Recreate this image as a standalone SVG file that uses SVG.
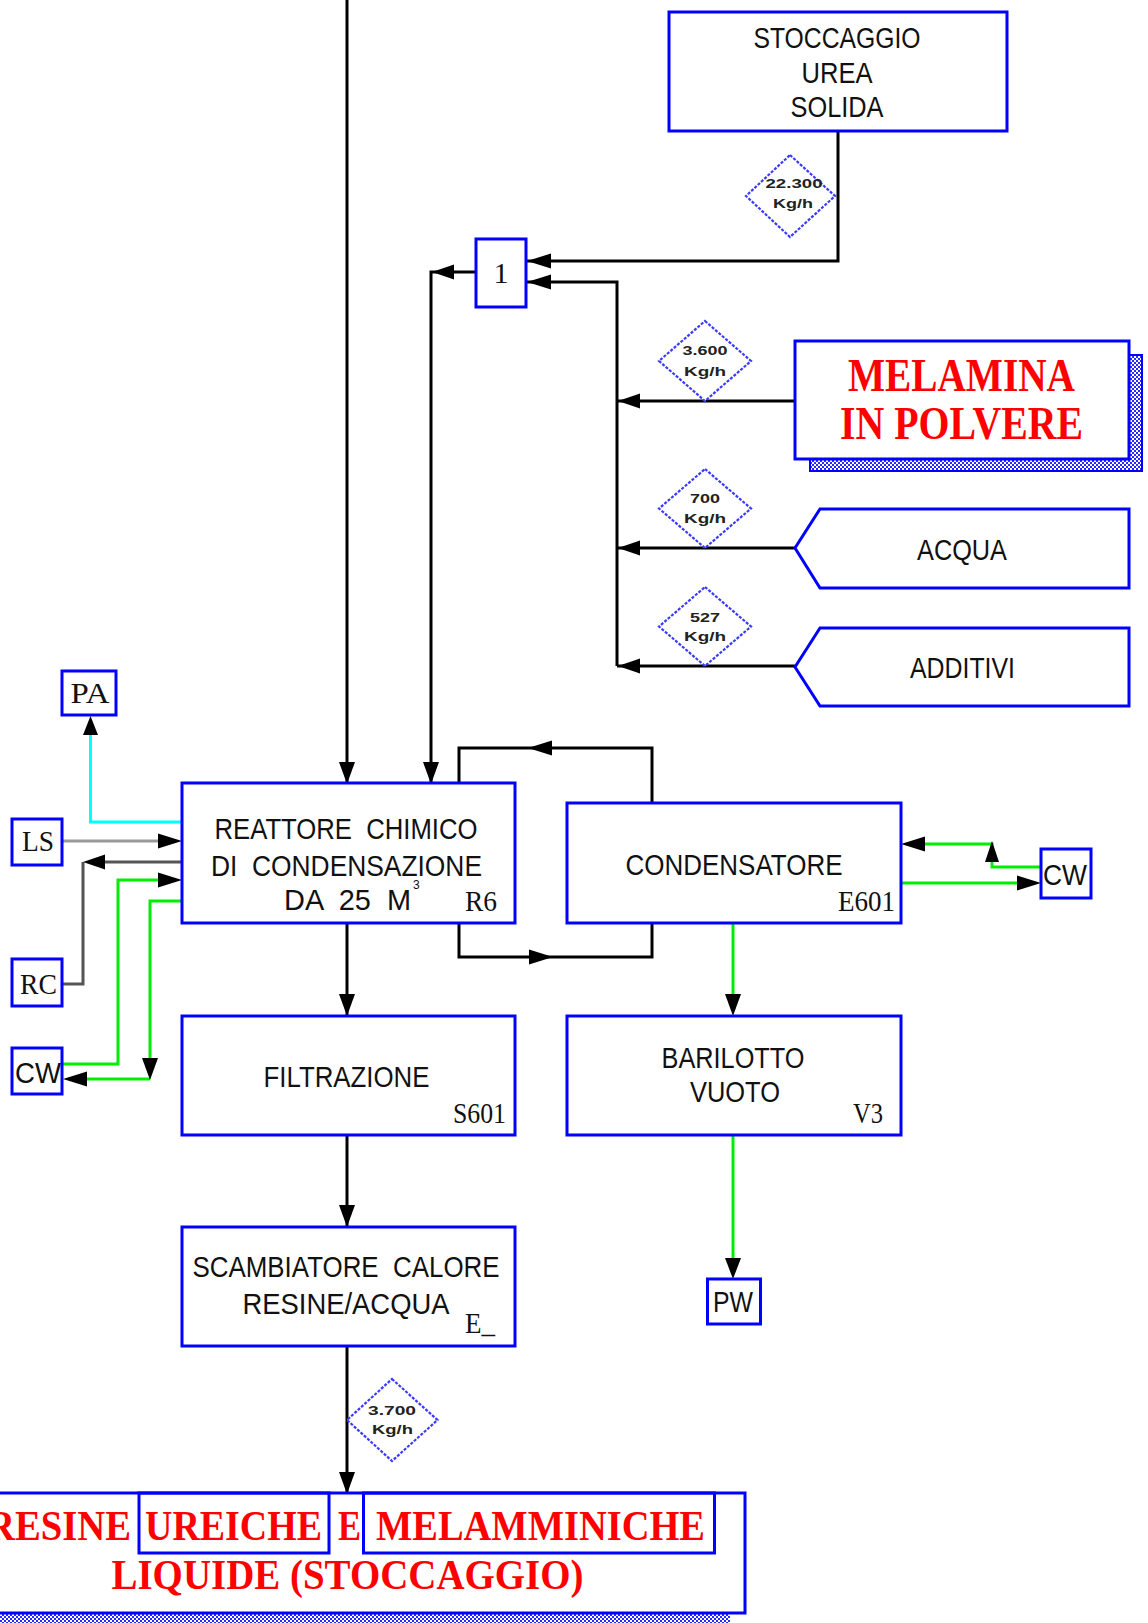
<svg xmlns="http://www.w3.org/2000/svg" width="1148" height="1623" viewBox="0 0 1148 1623">
<defs>
<pattern id="hatch" width="4" height="4" patternUnits="userSpaceOnUse">
<rect width="4" height="4" fill="#ffffff"/>
<rect width="2" height="2" fill="#2a2aff"/>
<rect x="2" y="2" width="2" height="2" fill="#2a2aff"/>
</pattern>
</defs>
<style>
.box{fill:#fff;stroke:#0000ff;stroke-width:3}
.ln{fill:none;stroke:#000;stroke-width:3}
.gr{stroke:#00ee00}
.cy{stroke:#00ffff}
.ah{fill:#000}
.dm{fill:#fff;stroke:#3a3aff;stroke-width:2.2;stroke-dasharray:3 1.5}
.t{font-family:"Liberation Sans",Arial,sans-serif;font-size:30px;fill:#111;white-space:pre}
.s{font-family:"Liberation Serif","Times New Roman",serif;font-size:30px;fill:#111}
.k{font-family:"Liberation Sans",Arial,sans-serif;font-size:13px;font-weight:bold;fill:#222}
.r{font-family:"Liberation Serif","Times New Roman",serif;font-weight:bold;fill:#ff0000}
</style>
<rect width="1148" height="1623" fill="#fff"/>

<g id="connectors">
<path class="ln" d="M347,0 V783"/>
<path class="ln" d="M476,272 H431 V783"/>
<path class="ln" d="M838,131 V261 H527"/>
<path class="ln" d="M617,666 V282 H527"/>
<path class="ln" d="M795,401 H617"/>
<path class="ln" d="M795,548 H617"/>
<path class="ln" d="M795,666 H617"/>
<path class="ln cy" d="M182,822 H90.5 V725"/>
<path class="ln" style="stroke:#999" d="M62,841 H170"/>
<path class="ln" style="stroke:#555" d="M182,862 H90 M83,862 V984 H62"/>
<path class="ln gr" d="M62,1064 H118 V880 H170"/>
<path class="ln gr" d="M182,901 H150 V1070 M150,1079 H75"/>
<path class="ln" d="M459,783 V748 H652 V803"/>
<path class="ln" d="M459,923 V957 H652 V923"/>
<path class="ln gr" d="M1041,867 H992 V844 H915"/>
<path class="ln gr" d="M901,883 H1030"/>
<path class="ln gr" d="M733,923 V1005"/>
<path class="ln gr" d="M733,1134 V1268"/>
<path class="ln" d="M347,923 V1015"/>
<path class="ln" d="M347,1134 V1226"/>
<path class="ln" d="M347,1346 V1493"/>
<g class="ah">
<polygon points="347,784 339,762 355,762"/>
<polygon points="431,784 423,762 439,762"/>
<polygon points="432,272 454,264.5 454,279.5"/>
<polygon points="527,261 551,253.5 551,268.5"/>
<polygon points="527,282 551,274.5 551,289.5"/>
<polygon points="618,401 640,393.5 640,408.5"/>
<polygon points="618,548 640,540.5 640,555.5"/>
<polygon points="618,666 640,658.5 640,673.5"/>
<polygon points="90.5,716 83,735 98,735"/>
<polygon points="182,841 158,833.5 158,848.5"/>
<polygon points="83,862 105,854.5 105,869.5"/>
<polygon points="182,880 158,872.5 158,887.5"/>
<polygon points="150,1080 142,1058 158,1058"/>
<polygon points="63,1079 87,1071.5 87,1086.5"/>
<polygon points="528,748 552,740.5 552,755.5"/>
<polygon points="553,957 529,949.5 529,964.5"/>
<polygon points="901,844 925,836.5 925,851.5"/>
<polygon points="992,841 985,862 999,862"/>
<polygon points="1041,883 1017,875.5 1017,890.5"/>
<polygon points="733,1016 725,994 741,994"/>
<polygon points="733,1279 725,1258 741,1258"/>
<polygon points="347,1016 339,994 355,994"/>
<polygon points="347,1227 339,1205 355,1205"/>
<polygon points="347,1494 339,1472 355,1472"/>
</g>
</g>

<g id="stoccaggio-urea">
<rect class="box" x="669" y="12" width="338" height="119"/>
<text class="t" x="753.5" y="48" textLength="167" lengthAdjust="spacingAndGlyphs">STOCCAGGIO</text>
<text class="t" x="801.5" y="83" textLength="71" lengthAdjust="spacingAndGlyphs">UREA</text>
<text class="t" x="790.5" y="117" textLength="93" lengthAdjust="spacingAndGlyphs">SOLIDA</text>
</g>

<g id="flow-22300">
<polygon class="dm" points="790,155 835,196 790,237 746,196"/>
<text class="k" x="765.5" y="188" textLength="57" lengthAdjust="spacingAndGlyphs">22.300</text>
<text class="k" x="773" y="208" textLength="40" lengthAdjust="spacingAndGlyphs">Kg/h</text>
</g>

<g id="mixer-1">
<rect class="box" x="476" y="239" width="50" height="68"/>
<text class="s" x="501" y="283" text-anchor="middle">1</text>
</g>

<g id="flow-3600">
<polygon class="dm" points="705,321 751,361 705,401 659,361"/>
<text class="k" x="682.5" y="355" textLength="45" lengthAdjust="spacingAndGlyphs">3.600</text>
<text class="k" x="684" y="376" textLength="42" lengthAdjust="spacingAndGlyphs">Kg/h</text>
</g>

<g id="melamina">
<rect x="810" y="355" width="332" height="116" fill="url(#hatch)" stroke="#0000ff" stroke-width="2"/>
<rect class="box" x="795" y="341" width="334" height="118"/>
<text class="r" x="848" y="391" font-size="46" textLength="227" lengthAdjust="spacingAndGlyphs">MELAMINA</text>
<text class="r" x="840" y="439" font-size="46" textLength="243" lengthAdjust="spacingAndGlyphs">IN POLVERE</text>
</g>

<g id="flow-700">
<polygon class="dm" points="705,469 751,508.5 705,548 659,508.5"/>
<text class="k" x="690" y="503" textLength="30" lengthAdjust="spacingAndGlyphs">700</text>
<text class="k" x="684" y="523" textLength="42" lengthAdjust="spacingAndGlyphs">Kg/h</text>
</g>

<g id="acqua">
<polygon class="box" points="795,548 820,509 1129,509 1129,588 820,588"/>
<text class="t" x="917" y="560" textLength="90" lengthAdjust="spacingAndGlyphs">ACQUA</text>
</g>

<g id="flow-527">
<polygon class="dm" points="705,587 751,626.5 705,666 659,626.5"/>
<text class="k" x="690" y="622" textLength="30" lengthAdjust="spacingAndGlyphs">527</text>
<text class="k" x="684" y="641" textLength="42" lengthAdjust="spacingAndGlyphs">Kg/h</text>
</g>

<g id="additivi">
<polygon class="box" points="795,667 820,628 1129,628 1129,706 820,706"/>
<text class="t" x="910" y="678" textLength="105" lengthAdjust="spacingAndGlyphs">ADDITIVI</text>
</g>

<g id="pa">
<rect class="box" x="62" y="671" width="54" height="44"/>
<text class="s" x="70.5" y="703" textLength="39" lengthAdjust="spacingAndGlyphs">PA</text>
</g>

<g id="ls">
<rect class="box" x="12" y="819" width="50" height="46"/>
<text class="s" x="22" y="851" textLength="32" lengthAdjust="spacingAndGlyphs">LS</text>
</g>

<g id="rc">
<rect class="box" x="12" y="959" width="50" height="47"/>
<text class="s" x="20" y="994" textLength="37" lengthAdjust="spacingAndGlyphs">RC</text>
</g>

<g id="cw-left">
<rect class="box" x="12" y="1048" width="50" height="46"/>
<text class="t" x="15" y="1083" textLength="46" lengthAdjust="spacingAndGlyphs">CW</text>
</g>

<g id="reattore">
<rect class="box" x="182" y="783" width="333" height="140"/>
<text class="t" xml:space="preserve" x="214.5" y="839" textLength="263" lengthAdjust="spacingAndGlyphs">REATTORE  CHIMICO</text>
<text class="t" xml:space="preserve" x="211" y="876" textLength="271" lengthAdjust="spacingAndGlyphs">DI  CONDENSAZIONE</text>
<text class="t" xml:space="preserve" x="284" y="910" textLength="127" lengthAdjust="spacingAndGlyphs">DA  25  M</text>
<text class="t" x="413" y="889" font-size="12" style="font-size:12px">3</text>
<text class="s" x="465" y="911" textLength="32" lengthAdjust="spacingAndGlyphs">R6</text>
</g>

<g id="condensatore">
<rect class="box" x="567" y="803" width="334" height="120"/>
<text class="t" x="625.5" y="875" textLength="217" lengthAdjust="spacingAndGlyphs">CONDENSATORE</text>
<text class="s" x="838" y="911" textLength="57" lengthAdjust="spacingAndGlyphs">E601</text>
</g>

<g id="cw-right">
<rect class="box" x="1041" y="849" width="50" height="49"/>
<text class="t" x="1043" y="885" textLength="44" lengthAdjust="spacingAndGlyphs">CW</text>
</g>

<g id="filtrazione">
<rect class="box" x="182" y="1016" width="333" height="119"/>
<text class="t" x="263.5" y="1087" textLength="166" lengthAdjust="spacingAndGlyphs">FILTRAZIONE</text>
<text class="s" x="453" y="1123" textLength="53" lengthAdjust="spacingAndGlyphs">S601</text>
</g>

<g id="barilotto">
<rect class="box" x="567" y="1016" width="334" height="119"/>
<text class="t" x="661.5" y="1068" textLength="143" lengthAdjust="spacingAndGlyphs">BARILOTTO</text>
<text class="t" x="690" y="1102" textLength="90" lengthAdjust="spacingAndGlyphs">VUOTO</text>
<text class="s" x="853" y="1123" textLength="30" lengthAdjust="spacingAndGlyphs">V3</text>
</g>

<g id="pw">
<rect class="box" x="707.5" y="1279" width="53" height="45"/>
<text class="t" x="713" y="1312" textLength="40" lengthAdjust="spacingAndGlyphs">PW</text>
</g>

<g id="scambiatore">
<rect class="box" x="182" y="1227" width="333" height="119"/>
<text class="t" xml:space="preserve" x="192.5" y="1277" textLength="307" lengthAdjust="spacingAndGlyphs">SCAMBIATORE  CALORE</text>
<text class="t" x="242.5" y="1314" textLength="207" lengthAdjust="spacingAndGlyphs">RESINE/ACQUA</text>
<text class="s" x="465" y="1333" font-size="28" textLength="30" lengthAdjust="spacingAndGlyphs">E_</text>
</g>

<g id="flow-3700">
<polygon class="dm" points="392,1379 437.5,1420 392,1461 347,1420"/>
<text class="k" x="368" y="1415" textLength="48" lengthAdjust="spacingAndGlyphs">3.700</text>
<text class="k" x="372" y="1434" textLength="41" lengthAdjust="spacingAndGlyphs">Kg/h</text>
</g>

<g id="resine-liquide">
<rect x="-5" y="1613" width="735" height="12" fill="url(#hatch)"/>
<rect class="box" x="-10" y="1493" width="755" height="120"/>
<rect class="box" x="139" y="1493" width="190" height="60" style="fill:none"/>
<rect class="box" x="363.5" y="1493" width="351" height="60" style="fill:none"/>
<text class="r" x="-13" y="1540" font-size="43" textLength="144" lengthAdjust="spacingAndGlyphs">RESINE</text>
<text class="r" x="145" y="1540" font-size="43" textLength="177" lengthAdjust="spacingAndGlyphs">UREICHE</text>
<text class="r" x="338" y="1540" font-size="43" textLength="23" lengthAdjust="spacingAndGlyphs">E</text>
<text class="r" x="376" y="1540" font-size="43" textLength="329" lengthAdjust="spacingAndGlyphs">MELAMMINICHE</text>
<text class="r" x="111.5" y="1589" font-size="43" textLength="472" lengthAdjust="spacingAndGlyphs">LIQUIDE (STOCCAGGIO)</text>
</g>
</svg>
